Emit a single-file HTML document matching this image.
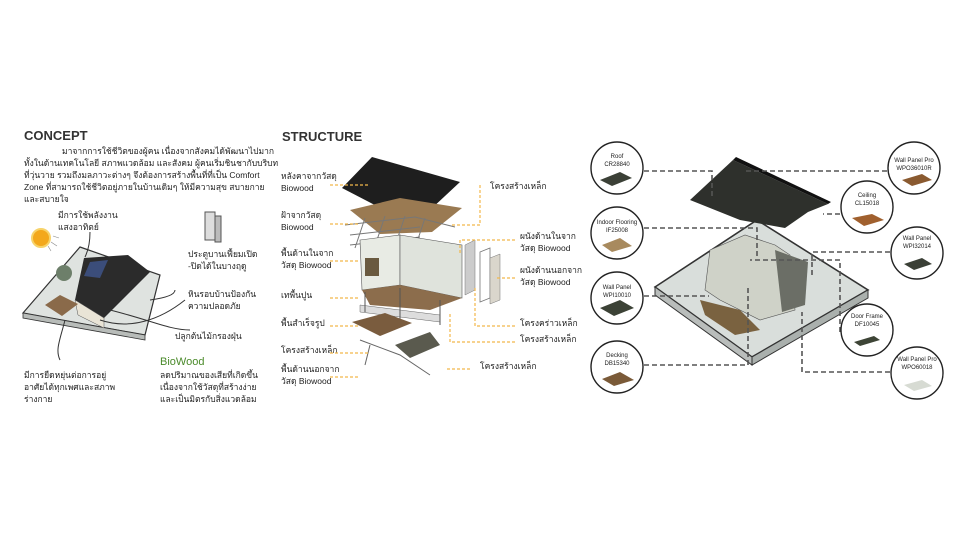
<!DOCTYPE html>
<html><head><meta charset="utf-8"><style>
html,body{margin:0;padding:0;background:#fff;}
svg{display:block;}
text{font-family:"Liberation Sans","Noto Sans CJK SC",sans-serif;fill:#222;}
.t{font-size:8.5px;}
.h{font-size:13px;font-weight:bold;fill:#333;}
.s{font-size:6px;fill:#333;}
.d{stroke:#f2b84b;stroke-width:1.2;stroke-dasharray:3 2;fill:none;}
.g{stroke:#555;stroke-width:1.6;stroke-dasharray:5 3;fill:none;}
.c{fill:#fff;stroke:#222;stroke-width:1.4;}
</style></head><body>
<svg width="960" height="540" viewBox="0 0 960 540" xmlns="http://www.w3.org/2000/svg">
<rect width="960" height="540" fill="#fff"/>
<text x="24" y="140" class="h">CONCEPT</text>
<text class="t" x="62" y="154">มาจากการใช้ชีวิตของผู้คน  เนื่องจากสังคมได้พัฒนาไปมาก</text>
<text class="t" x="24" y="166">ทั้งในด้านเทคโนโลยี สภาพแวดล้อม และสังคม ผู้คนเริ่มชินชากับบริบท</text>
<text class="t" x="24" y="178">ที่วุ่นวาย รวมถึงมลภาวะต่างๆ จึงต้องการสร้างพื้นที่ที่เป็น Comfort</text>
<text class="t" x="24" y="190">Zone ที่สามารถใช้ชีวิตอยู่ภายในบ้านเดิมๆ ให้มีความสุข สบายกาย</text>
<text class="t" x="24" y="202">และสบายใจ</text>
<text class="t" x="58" y="218">มีการใช้พลังงาน</text>
<text class="t" x="58" y="230">แสงอาทิตย์</text>
<circle cx="41" cy="238" r="9" fill="#f3a81c" stroke="#f7d36a" stroke-width="2"/>
<path d="M53 236l6 2M51 242l6 4M48 246l3 5" stroke="#888" stroke-width=".6"/>
<polygon points="23,313 80,247 160,275 145,335" fill="#dfe3e0" stroke="#333" stroke-width="1.2"/>
<polygon points="23,313 145,335 145,340 23,318" fill="#b8bcb9" stroke="#333" stroke-width=".8"/>
<polygon points="84,258 128,255 150,272 104,318 75,300" fill="#2b2b2b"/>
<polygon points="90,262 108,260 100,278 84,276" fill="#3b4d7a"/>
<polygon points="75,300 104,318 104,328 78,315" fill="#e9e4d6" stroke="#555" stroke-width=".5"/>
<circle cx="64" cy="273" r="8" fill="#6d7f6a"/>
<polygon points="45,305 60,295 78,304 62,316" fill="#8a6a4a"/>
<path d="M85 257c5-10 5-20 5-25M100 320c30 10 60 0 85-20M110 310c40 10 60 20 80 20M65 320c-5 20-10 30-5 40M150 300c15-2 25-5 25-10" stroke="#333" stroke-width="1" fill="none"/>
<rect x="205" y="212" width="10" height="28" fill="#ddd" stroke="#555"/>
<rect x="215" y="216" width="6" height="26" fill="#bbb" stroke="#555"/>
<text class="t" x="188" y="257">ประตูบานเฟี้ยมเปิด</text>
<text class="t" x="188" y="269">-ปิดได้ในบางฤดู</text>
<text class="t" x="188" y="297">หินรอบบ้านป้องกัน</text>
<text class="t" x="188" y="309">ความปลอดภัย</text>
<text class="t" x="175" y="339">ปลูกต้นไม้กรองฝุ่น</text>
<text x="160" y="365" style="font-size:11px;fill:#4a8a2a">BioWood</text>
<text class="t" x="160" y="378">ลดปริมาณของเสียที่เกิดขึ้น</text>
<text class="t" x="160" y="390">เนื่องจากใช้วัสดุที่สร้างง่าย</text>
<text class="t" x="160" y="402">และเป็นมิตรกับสิ่งแวดล้อม</text>
<text class="t" x="24" y="378">มีการยืดหยุ่นต่อการอยู่</text>
<text class="t" x="24" y="390">อาศัยได้ทุกเพศและสภาพ</text>
<text class="t" x="24" y="402">ร่างกาย</text>
<text x="282" y="141" class="h">STRUCTURE</text>
<g class="t">
<text x="281" y="179">หลังคาจากวัสดุ</text><text x="281" y="191">Biowood</text>
<text x="281" y="218">ฝ้าจากวัสดุ</text><text x="281" y="230">Biowood</text>
<text x="281" y="256">พื้นด้านในจาก</text><text x="281" y="268">วัสดุ Biowood</text>
<text x="281" y="298">เทพื้นปูน</text>
<text x="281" y="326">พื้นสำเร็จรูป</text>
<text x="281" y="353">โครงสร้างเหล็ก</text>
<text x="281" y="372">พื้นด้านนอกจาก</text><text x="281" y="384">วัสดุ Biowood</text>
<text x="490" y="189">โครงสร้างเหล็ก</text>
<text x="520" y="239">ผนังด้านในจาก</text><text x="520" y="251">วัสดุ Biowood</text>
<text x="520" y="273">ผนังด้านนอกจาก</text><text x="520" y="285">วัสดุ Biowood</text>
<text x="520" y="326">โครงคร่าวเหล็ก</text>
<text x="520" y="342">โครงสร้างเหล็ก</text>
<text x="480" y="369">โครงสร้างเหล็ก</text>
</g>
<polygon points="372,157 460,182 430,210 392,214 342,188" fill="#1e1e1e"/>
<polygon points="350,210 400,198 462,208 432,232 380,234" fill="#9a7a52"/>
<path d="M345 225l70 -8 40 10M350 235l70-8M350 245l70-8M365 218l-10 30M385 216l-10 30M405 216l-10 30M425 218l-10 30" stroke="#777" fill="none" stroke-width="1"/>
<polygon points="360,240 400,235 400,285 362,290" fill="#e8ebe4" stroke="#555" stroke-width=".6"/>
<polygon points="400,235 462,245 462,298 400,285" fill="#dfe3dc" stroke="#555" stroke-width=".6"/>
<rect x="365" y="258" width="14" height="18" fill="#6a5a40"/>
<polygon points="362,290 400,285 462,298 430,310 370,305" fill="#8c6d4c"/>
<polygon points="360,305 440,315 440,322 360,312" fill="#ddd" stroke="#666" stroke-width=".5"/>
<path d="M365 292v20M400 288v35M440 300v25" stroke="#555" stroke-width="1"/>
<polygon points="352,322 385,313 412,323 380,336" fill="#7a5c3e"/>
<polygon points="395,345 430,332 440,345 410,358" fill="#5a5a4e"/>
<path d="M360 340l40 15 30 20M370 345l-5 20" stroke="#666" stroke-width="1" fill="none"/>
<polygon points="465,245 475,240 475,290 465,295" fill="#ccc" stroke="#777" stroke-width=".5"/>
<polygon points="480,252 490,248 490,298 480,302" fill="none" stroke="#777" stroke-width=".8"/>
<polygon points="490,258 500,254 500,300 490,304" fill="#dad6cc" stroke="#777" stroke-width=".5"/>
<path class="d" d="M330 185h38M330 224h30M330 261h30M330 298h30M330 326h30M330 353h40M330 377h30M480 185v40h-30M515 240h-55v15M515 278h-20M515 326h-40v-40M515 342h-65v-30M470 369h-25"/>
<polygon points="655,287 757,220 868,290 752,357" fill="#d9dedb" stroke="#333" stroke-width="1.6"/>
<polygon points="655,287 752,357 752,365 655,295" fill="#b9bdbb" stroke="#333" stroke-width="1"/>
<polygon points="752,357 868,290 868,298 752,365" fill="#aab0ad" stroke="#333" stroke-width="1"/>
<polygon points="710,250 745,235 775,245 790,255 795,310 760,320 720,300 705,290" fill="#cfd2c8" stroke="#555" stroke-width=".6"/>
<polygon points="775,250 808,262 805,305 782,312" fill="#6b6e66"/>
<polygon points="700,300 740,310 760,330 735,335 705,315" fill="#7a6240"/>
<polygon points="690,200 733,160 828,204 808,212 785,228 740,220" fill="#2e302c"/>
<polygon points="733,160 828,204 831,202 736,157" fill="#111"/>
<path class="g" d="M644 171h68v25M644 228h113v30M644 296h65M644 365h104v-80M887 171h-143M840 214h-17M890 252h-78v24M840 332v-72h-90M890 372h-88v-60"/>
<g>
<circle class="c" cx="617" cy="168" r="26"/><circle class="c" cx="617" cy="233" r="26"/>
<circle class="c" cx="617" cy="298" r="26"/><circle class="c" cx="617" cy="367" r="26"/>
<circle class="c" cx="914" cy="168" r="26"/><circle class="c" cx="867" cy="207" r="26"/>
<circle class="c" cx="917" cy="253" r="26"/><circle class="c" cx="867" cy="330" r="26"/>
<circle class="c" cx="917" cy="373" r="26"/>
</g>
<g class="s" text-anchor="middle">
<text x="617" y="158">Roof</text><text x="617" y="166">CR28840</text>
<text x="617" y="224">Indoor Flooring</text><text x="617" y="232">IF25008</text>
<text x="617" y="289">Wall Panel</text><text x="617" y="297">WPI10010</text>
<text x="617" y="357">Decking</text><text x="617" y="365">DB15340</text>
<text x="914" y="162">Wall Panel Pro</text><text x="914" y="170">WPO36010R</text>
<text x="867" y="197">Ceiling</text><text x="867" y="205">CL15018</text>
<text x="917" y="240">Wall Panel</text><text x="917" y="248">WPI32014</text>
<text x="867" y="318">Door Frame</text><text x="867" y="326">DF10045</text>
<text x="917" y="361">Wall Panel Pro</text><text x="917" y="369">WPO60018</text>
</g>
<polygon points="600,180 620,172 632,178 612,186" fill="#3b4036"/>
<polygon points="602,245 620,238 632,246 612,252" fill="#a88a5e"/>
<polygon points="600,308 620,300 634,308 614,316" fill="#3c4236"/>
<polygon points="602,379 620,372 634,380 614,386" fill="#7a5a38"/>
<polygon points="902,180 922,174 932,180 912,186" fill="#8a5a30"/>
<polygon points="852,218 872,214 884,220 864,226" fill="#a0602e"/>
<polygon points="904,264 922,258 932,264 914,270" fill="#3b4036"/>
<polygon points="854,342 874,336 880,340 860,346" fill="#3d4436"/>
<polygon points="904,385 922,380 932,386 914,391" fill="#d7dbd3"/>
</svg>
</body></html>
